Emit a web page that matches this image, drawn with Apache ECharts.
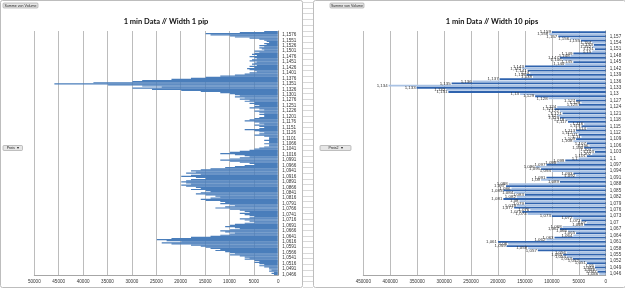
<!DOCTYPE html>
<html><head><meta charset="utf-8">
<script src="https://cdn.jsdelivr.net/npm/echarts@6/dist/echarts.min.js"></script>
<style>html,body{margin:0;padding:0;background:#fff}#c{width:625px;height:288px}</style>
</head><body><div id="c"></div>
<script>
// ---------- data ----------
const leftTitle = '1 min Data // Width 1 pip';
const rightTitle = '1 min Data // Width 10 pips';
const buttonText = 'Summe von Volume';
const filterText = 'Preis';
const leftTickMax = 50000, leftTickStep = 5000;
const rightTickMax = 450000, rightTickStep = 50000;

// left chart price levels (top to bottom), 5-pip rows
const leftUpperTop = 11591, leftUpperBottom = 11101;
const leftLowerTop = 11086, leftLowerBottom = 10466;

// left volumes, top to bottom
const leftVolume = [
 3000, 8000, 15000, 14000, 10000,
 9000, 6000, 4000, 3000, 2500,
 2000, 3000, 2500, 4000, 3000, 4000, 3500, 3000, 5000, 4000,
 5000, 5500, 4500, 6000, 5000, 4500, 5500, 6000, 4500, 5000,
 5500, 4500, 6000, 5000, 6500, 6000, 5000, 4500, 6000, 7000,
 9000, 12000, 15000, 18000, 22000, 28000,
 30000, 38000, 46000, 35000, 28000, 24000, 30000, 26000, 20000, 16000, 12000,
 10000, 9000, 8000, 9000, 7000, 8000, 6000, 7000, 5000, 6000,
 5000, 4000, 5000, 6000, 4000, 3000, 5000, 4000, 3000, 4000, 3000,
 3000, 4000, 5000, 6000, 7000, 5000, 4000, 3000, 5000, 4000,
 3000, 4000, 7000, 5000, 4000, 3000, 4000, 5000, 3000, 2000,
 2000, 2000, 3000, 2000, 2000, 3000, 2000, 2000, 3000, 4000,
 5000, 6000, 8000, 10000, 12000, 9000, 7000, 6000, 8000, 10000,
 12000, 10000, 8000, 6000, 5000, 7000, 9000, 11000, 14000, 16000,
 18000, 17000, 19000, 16000, 18000, 20000, 17000, 15000, 18000, 19000,
 20000, 19000, 18000, 20000, 19000, 17000, 16000, 18000, 15000, 14000,
 16000, 17000, 15000, 13000, 12000, 14000, 16000, 15000, 12000, 11000,
 12000, 10000, 9000, 11000, 13000, 10000, 8000, 7000, 6000, 8000,
 7000, 6000, 5000, 6000, 8000, 7000, 6000, 5000, 7000, 9000,
 10000, 11000, 9000, 8000, 10000, 12000, 11000, 9000, 10000, 12000,
 14000, 18000, 22000, 25000, 23000, 20000, 24000, 22000, 18000, 16000,
 15000, 14000, 12000, 13000, 11000, 10000, 9000, 10000, 8000, 7000,
 6000, 7000, 5000, 4000, 5000, 4000, 3000, 4000, 3000, 2000,
 2000, 1500, 2000, 1000, 1500, 1000
];

// right chart price levels (top to bottom), 10-pip rows
const rightTop = 1159, rightBottom = 1046;
// right volumes, top to bottom (1.159 ... 1.046)
const rightVolume = [
 100000, 105000, 88000, 66000, 46000, 25000, 22000, 25000, 20000, 25000,
 60000, 65000, 85000, 80000, 60000, 75000, 150000, 155000, 145000, 140000,
 147000, 135000, 197000, 247000, 286000, 403000, 351000, 296000, 292000, 159000,
 131000, 106000, 55000, 45000, 50000, 90000, 95000, 85000, 80000, 90000,
 85000, 75000, 70000, 40000, 45000, 35000, 55000, 60000, 50000, 45000,
 55000, 60000, 35000, 30000, 40000, 25000, 20000, 25000, 35000, 50000,
 75000, 90000, 110000, 130000, 120000, 100000, 60000, 55000, 110000, 120000,
 85000, 180000, 185000, 175000, 190000, 170000, 150000, 165000, 190000, 160000,
 150000, 165000, 170000, 140000, 155000, 145000, 100000, 60000, 45000, 35000,
 40000, 80000, 85000, 70000, 55000, 60000, 95000, 110000, 200000, 181000,
 184000, 144000, 126000, 72000, 79000, 72000, 61000, 48000, 35000, 20000,
 20000, 18000, 15000, 12000
];

// ---------- build categories ----------
const leftCats = [];
for (let p = leftUpperTop; p >= leftUpperBottom; p -= 5) leftCats.push((p / 10000).toFixed(4));
for (let p = leftLowerTop; p >= leftLowerBottom; p -= 5) leftCats.push((p / 10000).toFixed(4));
const rightCats = [];
for (let p = rightTop; p >= rightBottom; p -= 1) rightCats.push(String(p / 1000));

const comma = s => String(s).replace('.', ',');
const plain = v => String(v);
const nL = leftCats.length, nR = rightCats.length;

const chart = echarts.init(document.getElementById('c'), null, {renderer: 'canvas'});

// decorative spreadsheet lines between charts
const sheet = [];
for (let y = 2; y < 288; y += 5.7) {
  sheet.push({type: 'line', shape: {x1: 303, y1: Math.round(y) + 0.5, x2: 313, y2: Math.round(y) + 0.5},
    style: {stroke: '#d9d9d9', lineWidth: 1}, z: -5});
}
function button(x, y, w, h, text) {
  return {type: 'group', z: 100, children: [
    {type: 'rect', shape: {x: x, y: y, width: w, height: h, r: 1},
     style: {fill: '#e6e6e6', stroke: '#9a9a9a', lineWidth: 0.6}},
    {type: 'text', style: {x: x + w / 2, y: y + h / 2 + 0.2, text: text, fill: '#222',
      font: '3.6px "Liberation Sans"', align: 'center', verticalAlign: 'middle'}}
  ]};
}

const axisLabelFont = {fontSize: 4.6, color: '#333', fontFamily: 'Liberation Sans'};

const option = {
  animation: false,
  backgroundColor: '#ffffff',
  title: [
    {text: leftTitle, left: 161, top: 13, textAlign: 'center',
     textStyle: {fontSize: 7.5, fontWeight: 'bold', color: '#111', fontFamily: 'Lato'}},
    {text: rightTitle, left: 487, top: 13, textAlign: 'center',
     textStyle: {fontSize: 7.5, fontWeight: 'bold', color: '#111', fontFamily: 'Lato'}}
  ],
  graphic: [
    {type: 'rect', shape: {x: 0.5, y: 0.5, width: 302, height: 287, r: 2},
     style: {fill: '#fff', stroke: '#bdbdbd', lineWidth: 1}, z: -10},
    {type: 'rect', shape: {x: 313.5, y: 0.5, width: 312, height: 287, r: 2},
     style: {fill: '#fff', stroke: '#bdbdbd', lineWidth: 1}, z: -10},
    ...sheet,
    button(3, 3, 35, 5, buttonText),
    button(330, 3, 34, 5, buttonText),
    button(3, 145.5, 19.5, 5, filterText + '  \u25BE'),
    button(320, 145.5, 31, 5, filterText + '2  \u25BE')
  ],
  grid: [
    {left: 34.3, right: 625 - 278.3, top: 31, bottom: 13},
    {left: 363.3, right: 625 - 605.7, top: 31, bottom: 13}
  ],
  xAxis: [
    {gridIndex: 0, type: 'value', inverse: true, min: 0, max: leftTickMax, interval: leftTickStep,
     axisLine: {show: true, lineStyle: {color: '#a6a6a6', width: 1}}, axisTick: {show: false},
     splitLine: {lineStyle: {color: '#bcbcbc', width: 1}},
     axisLabel: {...axisLabelFont, margin: 4, formatter: plain}},
    {gridIndex: 1, type: 'value', inverse: true, min: 0, max: rightTickMax, interval: rightTickStep,
     axisLine: {show: true, lineStyle: {color: '#a6a6a6', width: 1}}, axisTick: {show: false},
     splitLine: {lineStyle: {color: '#bcbcbc', width: 1}},
     axisLabel: {...axisLabelFont, margin: 4, formatter: plain}}
  ],
  yAxis: [
    {gridIndex: 0, type: 'category', position: 'right', inverse: true, data: leftCats,
     axisLine: {show: true, lineStyle: {color: '#8c8c8c', width: 1}}, axisTick: {show: false},
     axisLabel: {...axisLabelFont, margin: 4, formatter: comma,
       interval: (i) => (nL - 1 - i) % 5 === 0}},
    {gridIndex: 1, type: 'category', position: 'right', inverse: true, data: rightCats,
     axisLine: {show: true, lineStyle: {color: '#8c8c8c', width: 1}}, axisTick: {show: false},
     axisLabel: {...axisLabelFont, margin: 4, formatter: comma,
       interval: (i) => (nR - 1 - i) % 3 === 0}}
  ],
  series: [
    {type: 'bar', xAxisIndex: 0, yAxisIndex: 0, data: leftVolume, barCategoryGap: '0%',
     itemStyle: {color: '#4a7ebb', borderColor: '#4a7ebb', borderWidth: 1.2}},
    {type: 'bar', xAxisIndex: 1, yAxisIndex: 1, barCategoryGap: '15%',
     data: rightVolume.map((v, i) => ({value: v,
       itemStyle: {color: i % 2 === 0 ? '#2f63ae' : '#a9c2e4'}})),
     label: {show: true, position: 'left', distance: 1, fontSize: 4.4, color: '#333',
       fontFamily: 'Liberation Sans', formatter: p => comma(p.name)}}
  ]
};
chart.setOption(option);
</script>
</body></html>
